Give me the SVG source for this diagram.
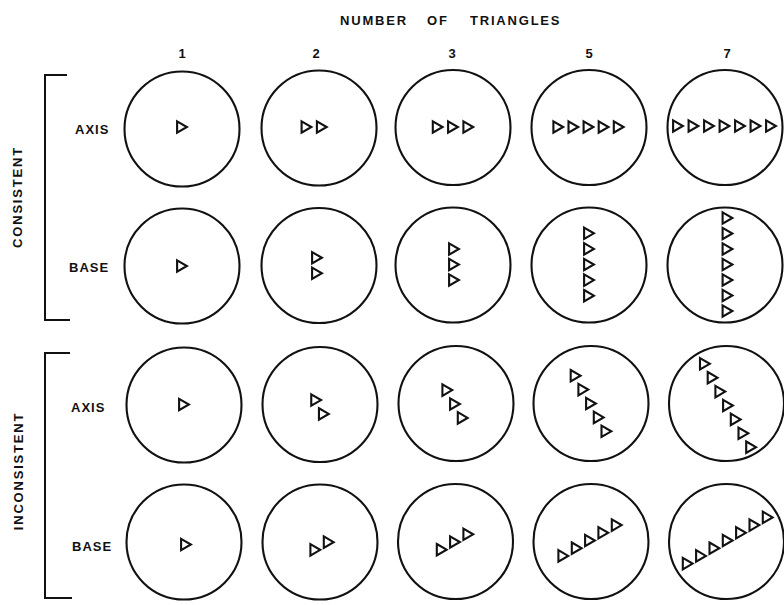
<svg xmlns="http://www.w3.org/2000/svg" xmlns:xlink="http://www.w3.org/1999/xlink" width="784" height="605" viewBox="0 0 784 605">
<style>
  .bg { fill: #ffffff; }
  .c { fill: none; stroke: #111; stroke-width: 2.1; }
  .t { fill: none; stroke: #111; stroke-width: 2.1; stroke-linejoin: miter; }
  .lbl { font-family: "Liberation Sans", Arial, sans-serif; font-weight: bold; font-size: 13px; fill: #111; }
  .title { letter-spacing: 1.8px; }
  .row { letter-spacing: 1px; }
  .grp { letter-spacing: 1.8px; }
  .br { fill: none; stroke: #111; stroke-width: 2; }
</style>
<defs>
  <polygon id="tri" class="t" points="-4.9,-5.7 4.9,0 -4.9,5.7"/>
</defs>
<rect class="bg" x="0" y="0" width="784" height="605"/>

<g id="header">
  <text class="lbl title" y="25"><tspan x="340">NUMBER</tspan><tspan x="427">OF</tspan><tspan x="470">TRIANGLES</tspan></text>
  <text class="lbl" x="182" y="58" text-anchor="middle">1</text>
  <text class="lbl" x="316" y="58" text-anchor="middle">2</text>
  <text class="lbl" x="452" y="58" text-anchor="middle">3</text>
  <text class="lbl" x="589" y="58" text-anchor="middle">5</text>
  <text class="lbl" x="727" y="58" text-anchor="middle">7</text>
</g>

<g id="group-labels">
  <text class="lbl grp" transform="translate(21.5,197) rotate(-90)" text-anchor="middle">CONSISTENT</text>
  <text class="lbl grp" transform="translate(22.5,471) rotate(-90)" text-anchor="middle">INCONSISTENT</text>
  <text class="lbl row" x="75" y="134">AXIS</text>
  <text class="lbl row" x="69" y="271.5">BASE</text>
  <text class="lbl row" x="71" y="412">AXIS</text>
  <text class="lbl row" x="72" y="551">BASE</text>
</g>

<g id="connectors">
  <path class="br" d="M67,75 H45 V320 H70"/>
  <path class="br" d="M70,353 H45 V598 H72"/>
</g>

<!-- Row 1: consistent axis -->
<g id="ca1"><circle class="c" cx="182" cy="129" r="57.5"/><use href="#tri" x="182" y="127"/></g>
<g id="ca2"><circle class="c" cx="319" cy="128" r="57.5"/><use href="#tri" x="306.5" y="127"/><use href="#tri" x="321.8" y="127"/></g>
<g id="ca3"><circle class="c" cx="453" cy="127.5" r="57.5"/><use href="#tri" x="437.7" y="127"/><use href="#tri" x="453" y="127"/><use href="#tri" x="468.3" y="127"/></g>
<g id="ca5"><circle class="c" cx="589" cy="127.5" r="57.5"/><use href="#tri" x="558.3" y="127"/><use href="#tri" x="573.4" y="127"/><use href="#tri" x="588.5" y="127"/><use href="#tri" x="603.6" y="127"/><use href="#tri" x="618.7" y="127"/></g>
<g id="ca7"><circle class="c" cx="725" cy="127.5" r="57.5"/><use href="#tri" x="678" y="126"/><use href="#tri" x="693.5" y="126"/><use href="#tri" x="709" y="126"/><use href="#tri" x="724.5" y="126"/><use href="#tri" x="740" y="126"/><use href="#tri" x="755.5" y="126"/><use href="#tri" x="771" y="126"/></g>

<!-- Row 2: consistent base -->
<g id="cb1"><circle class="c" cx="182" cy="266" r="57.5"/><use href="#tri" x="182" y="266"/></g>
<g id="cb2"><circle class="c" cx="319" cy="265.5" r="57.5"/><use href="#tri" x="317" y="257.75"/><use href="#tri" x="317" y="273.25"/></g>
<g id="cb3"><circle class="c" cx="453" cy="265" r="57.5"/><use href="#tri" x="454" y="249"/><use href="#tri" x="454" y="264.5"/><use href="#tri" x="454" y="280"/></g>
<g id="cb5"><circle class="c" cx="589" cy="265" r="57.5"/><use href="#tri" x="589" y="233.3"/><use href="#tri" x="589" y="248.9"/><use href="#tri" x="589" y="264.5"/><use href="#tri" x="589" y="280.1"/><use href="#tri" x="589" y="295.7"/></g>
<g id="cb7"><circle class="c" cx="725" cy="265" r="57.5"/><use href="#tri" x="727.5" y="218"/><use href="#tri" x="727.5" y="233.5"/><use href="#tri" x="727.5" y="249"/><use href="#tri" x="727.5" y="264.5"/><use href="#tri" x="727.5" y="280"/><use href="#tri" x="727.5" y="295.5"/><use href="#tri" x="727.5" y="311"/></g>

<!-- Row 3: inconsistent axis -->
<g id="ia1"><circle class="c" cx="184" cy="405" r="57.5"/><use href="#tri" x="184" y="404.5"/></g>
<g id="ia2"><circle class="c" cx="320" cy="404.5" r="57.5"/><use href="#tri" x="316.15" y="400.05"/><use href="#tri" x="323.85" y="413.95"/></g>
<g id="ia3"><circle class="c" cx="456" cy="403.5" r="57.5"/><use href="#tri" x="447.3" y="390.1"/><use href="#tri" x="455" y="404"/><use href="#tri" x="462.7" y="417.9"/></g>
<g id="ia5"><circle class="c" cx="591" cy="403.5" r="57.5"/><use href="#tri" x="575.6" y="375.7"/><use href="#tri" x="583.3" y="389.6"/><use href="#tri" x="591" y="403.5"/><use href="#tri" x="598.7" y="417.4"/><use href="#tri" x="606.4" y="431.3"/></g>
<g id="ia7"><circle class="c" cx="726.5" cy="403.5" r="57.5"/><use href="#tri" x="704.9" y="363.8"/><use href="#tri" x="712.6" y="377.7"/><use href="#tri" x="720.3" y="391.6"/><use href="#tri" x="728" y="405.5"/><use href="#tri" x="735.7" y="419.4"/><use href="#tri" x="743.4" y="433.3"/><use href="#tri" x="751.1" y="447.2"/></g>

<!-- Row 4: inconsistent base -->
<g id="ib1"><circle class="c" cx="184" cy="542" r="57.5"/><use href="#tri" x="186" y="544.5"/></g>
<g id="ib2"><circle class="c" cx="320" cy="542" r="57.5"/><use href="#tri" x="315.3" y="549.85"/><use href="#tri" x="328.7" y="542.15"/></g>
<g id="ib3"><circle class="c" cx="455.5" cy="541.5" r="57.5"/><use href="#tri" x="441.7" y="549.7"/><use href="#tri" x="455" y="542"/><use href="#tri" x="468.3" y="534.3"/></g>
<g id="ib5"><circle class="c" cx="591" cy="541.5" r="57.5"/><use href="#tri" x="563.3" y="555.9"/><use href="#tri" x="576.7" y="548.2"/><use href="#tri" x="590" y="540.5"/><use href="#tri" x="603.3" y="532.8"/><use href="#tri" x="616.7" y="525.1"/></g>
<g id="ib7"><circle class="c" cx="726.5" cy="541.5" r="57.5"/><use href="#tri" x="687.7" y="563.6"/><use href="#tri" x="701" y="555.9"/><use href="#tri" x="714.4" y="548.2"/><use href="#tri" x="727.7" y="540.5"/><use href="#tri" x="741" y="532.8"/><use href="#tri" x="754.4" y="525.1"/><use href="#tri" x="767.7" y="517.4"/></g>
</svg>
